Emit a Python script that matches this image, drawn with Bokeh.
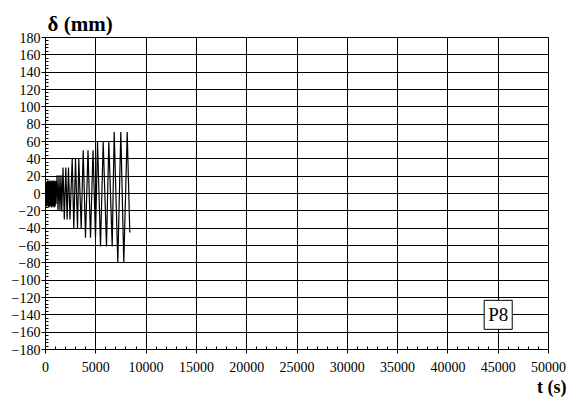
from bokeh.plotting import figure
from bokeh.models import Range1d, SingleIntervalTicker, Label, Title
from bokeh.embed import file_html
from bokeh.resources import INLINE

# ---- data ----
dense_t = [0, 40, 85, 128, 172, 215, 260, 303, 347, 390, 435, 478, 522, 565, 610,
           653, 697, 740, 785, 828, 872, 915, 960, 1003, 1050]
dense_v = [0, 14, -15, 13, -14, 15, -15, 14, -16, 15, -15, 14, -15, 15, -16,
           14, -15, 15, -15, 14, -16, 15, -15, 14, -12]

cyc_t = [1143, 1243, 1342, 1441, 1541, 1620,
         1740, 1869, 2018, 2147, 2286, 2435,
         2654, 2813, 2982, 3181, 3310, 3549,
         3747, 3976, 4225, 4473, 4722, 4970,
         5169, 5467, 5735, 6063, 6292, 6630,
         6829, 7187, 7485, 7783, 8121, 8379]
cyc_v = [21, -20, 21, -20, 21, -21,
         30, -30, 30, -30, 30, -30,
         40, -41, 40, -41, 40, -41,
         50, -51, 50, -51, 50, -51,
         60, -61, 60, -61, 60, -61,
         71, -80, 71, -80, 71, -45]

time_s = dense_t + cyc_t
disp_mm = dense_v + cyc_v

x_ticks_interval = 5000
y_ticks_interval = 20

FONT = "Liberation Serif"

p = figure(width=569, height=399, output_backend="svg", toolbar_location=None,
           x_range=Range1d(0, 50000), y_range=Range1d(-180, 180),
           min_border_left=45, min_border_right=21, min_border_top=37, min_border_bottom=50)
p.background_fill_color = "white"
p.border_fill_color = "white"
p.outline_line_color = "black"
p.outline_line_width = 1

p.line(time_s, disp_mm, line_color="black", line_width=1.2)

p.xaxis.ticker = SingleIntervalTicker(interval=x_ticks_interval, num_minor_ticks=5)
p.yaxis.ticker = SingleIntervalTicker(interval=y_ticks_interval, num_minor_ticks=5)
p.xgrid.ticker = p.xaxis.ticker
p.ygrid.ticker = p.yaxis.ticker

for ax in (p.xaxis, p.yaxis):
    ax.axis_line_color = "black"
    ax.major_tick_line_color = "black"
    ax.minor_tick_line_color = "black"
    ax.major_tick_in = 4
    ax.major_tick_out = 4
    ax.minor_tick_in = 3
    ax.minor_tick_out = 0
    ax.major_label_text_font = FONT
    ax.major_label_text_font_size = "14px"
    ax.major_label_text_color = "black"

p.xaxis.major_label_standoff = 8
p.yaxis.major_label_standoff = 1

p.grid.grid_line_color = "black"
p.grid.grid_line_width = 1
p.grid.grid_line_alpha = 1

# y-axis title in the top panel (fits inside the 37 px top border)
p.add_layout(Title(text="δ (mm)", text_font=FONT, text_font_style="bold",
                   text_font_size="21px", text_color="black", align="left",
                   offset=2, standoff=3), "above")
p.add_layout(Title(text="t (s)", text_font=FONT, text_font_style="bold",
                   text_font_size="18px", text_color="black", align="right",
                   offset=-18, standoff=0), "below")
p.add_layout(Label(x=45000, y=-140, text="P8", text_font=FONT,
                   text_font_size="19px", text_color="black", text_align="center",
                   text_baseline="middle", background_fill_color="white",
                   border_line_color="black", border_line_width=1, padding=4))

open("out.html", "w").write(file_html(p, INLINE))
